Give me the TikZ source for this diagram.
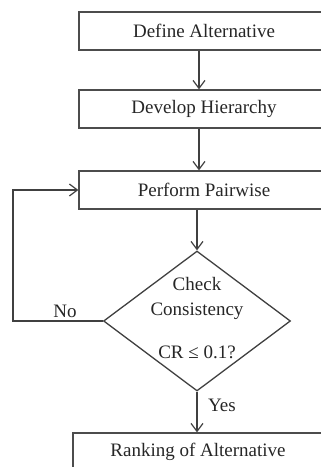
\documentclass[tikz,border=0pt]{standalone}
\usepackage{fontspec}
\setmainfont{Liberation Serif}
\usetikzlibrary{shapes.geometric,arrows.meta}
\begin{document}
\begin{tikzpicture}[x=1pt,y=-1pt,
  line width=1.3pt,
  every node/.style={font=\fontsize{19}{22}\selectfont, text=black!85},
  stepbox/.style={draw=black!70, minimum width=250pt, minimum height=38pt, inner sep=0pt},
  flow/.style={draw=black!75, -{Straight Barb[length=8pt,width=12pt,line width=1.2pt]}},
  lbl/.style={inner sep=0pt}
]
\useasboundingbox (0,0) rectangle (321,467);
\begin{scope}
\clip (0,0) rectangle (321,467);

% process boxes, each centred on its own text
\node[stepbox] (def)  at (204,31)  {Define Alternative};
\node[stepbox] (dev)  at (204,109) {Develop Hierarchy};
\node[stepbox] (pair) at (204,190) {Perform Pairwise};
\node[stepbox] (rank) at (198,452) {Ranking of Alternative};

% decision
\node[diamond, draw=black!75, minimum width=187pt, minimum height=140pt, inner sep=0pt] (chk) at (197,321) {};
\node[lbl] at (197,284) {Check};
\node[lbl] at (197,311) {Consistency};
\node[lbl] at (197,352) {CR ≤ 0.1?};

% connectors
\draw[flow] (def.south -| 199,0) -- (dev.north -| 199,0);
\draw[flow] (dev.south -| 199,0) -- (pair.north -| 199,0);
\draw[flow] (pair.south -| chk.north) -- (chk.north);
\draw[flow] (chk.south) -- (chk.south |- rank.north);
\coordinate (loop) at (13,321);
\draw[flow] (chk.west) -- (loop) |- (pair.west);

\node[lbl] at (65,311) {No};
\node[lbl] at (222,405) {Yes};
\end{scope}
\end{tikzpicture}
\end{document}
